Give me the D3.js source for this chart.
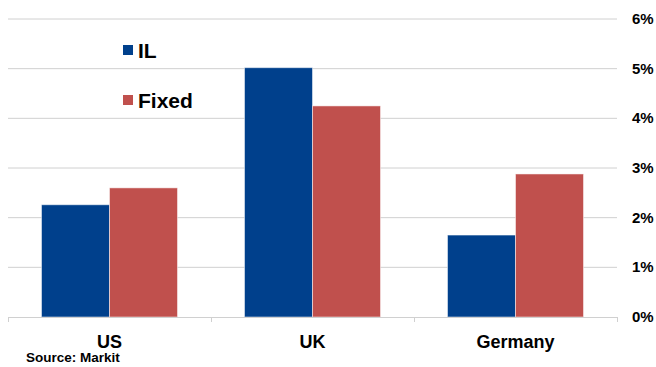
<!DOCTYPE html>
<html>
<head>
<meta charset="utf-8">
<script src="https://cdn.jsdelivr.net/npm/d3@7"></script>
<style>
  body { margin: 0; background: #fff; }
  text { font-family: Arial, "Liberation Sans", sans-serif; font-weight: bold; fill: #000; }
</style>
</head>
<body>
<svg id="chart"></svg>
<script>
const categories = ['US', 'UK', 'Germany']
const seriesNames = ['IL', 'Fixed']
const ilValues = [2.26, 5.02, 1.65]
const fixedValues = [2.60, 4.25, 2.88]
const yTicks = [0, 1, 2, 3, 4, 5, 6]
const colors = ['#00408C', '#C0504D']

const width = 656, height = 367
const svg = d3.select('#chart').attr('width', width).attr('height', height)

const margins = { left: 8, right: 39, top: 19, bottom: 50 }
const plotW = width - margins.left - margins.right
const plotH = height - margins.top - margins.bottom

const chart = svg.append('g')
    .attr('transform', `translate(${margins.left}, ${margins.top})`)

const x = d3.scaleBand().domain(categories).range([0, plotW]).paddingInner(0).paddingOuter(0)
const xs = d3.scaleBand().domain(seriesNames).range([x.bandwidth() * 0.165, x.bandwidth() * 0.835])
const y = d3.scaleLinear().domain([0, 6]).range([plotH, 0])

// gridlines
chart.selectAll('.grid')
    .data(yTicks.filter(d => d > 0))
    .join('line')
    .attr('x1', 0).attr('x2', plotW)
    .attr('y1', d => y(d)).attr('y2', d => y(d))
    .attr('stroke', '#d0d0d0').attr('stroke-width', 1)

// right axis labels
chart.selectAll('.ytick')
    .data(yTicks)
    .join('text')
    .attr('x', plotW + 15)
    .attr('y', d => y(d) + 5)
    .attr('font-size', 15)
    .text(d => d + '%')

const rows = categories.map((c, i) => ({ cat: c, values: [ilValues[i], fixedValues[i]] }))

const groups = chart.selectAll('.grp')
    .data(rows)
    .join('g')
    .attr('transform', d => `translate(${x(d.cat)},0)`)

groups.selectAll('rect')
    .data(d => d.values.map((v, j) => ({ name: seriesNames[j], v: v, j: j })))
    .join('rect')
    .attr('x', d => xs(d.name))
    .attr('width', xs.bandwidth())
    .attr('y', d => y(d.v))
    .attr('height', d => plotH - y(d.v))
    .attr('fill', d => colors[d.j])
    .attr('stroke', 'rgba(255,255,255,0.5)')
    .attr('stroke-width', 1)

// bottom axis
chart.append('line')
    .attr('x1', 0).attr('x2', plotW)
    .attr('y1', plotH + 0.5).attr('y2', plotH + 0.5)
    .attr('stroke', '#d0d0d0')
chart.selectAll('.xtick')
    .data(d3.range(categories.length + 1))
    .join('line')
    .attr('x1', i => i * x.step() + 0.5).attr('x2', i => i * x.step() + 0.5)
    .attr('y1', plotH).attr('y2', plotH + 5)
    .attr('stroke', '#d0d0d0')

chart.selectAll('.xlabel')
    .data(categories)
    .join('text')
    .attr('x', d => x(d) + x.bandwidth() / 2)
    .attr('y', plotH + 31)
    .attr('text-anchor', 'middle')
    .attr('font-size', 18)
    .text(d => d)

// legend
const legend = svg.append('g')
seriesNames.forEach((n, i) => {
    legend.append('rect')
        .attr('x', 123).attr('y', 45 + i * 50)
        .attr('width', 10).attr('height', 10)
        .attr('fill', colors[i])
    legend.append('text')
        .attr('x', 138).attr('y', 58 + i * 50)
        .attr('font-size', 21)
        .text(n)
})

svg.append('text')
    .attr('x', 26).attr('y', 362)
    .attr('font-size', 13.5)
    .text('Source: Markit')
</script>
</body>
</html>
